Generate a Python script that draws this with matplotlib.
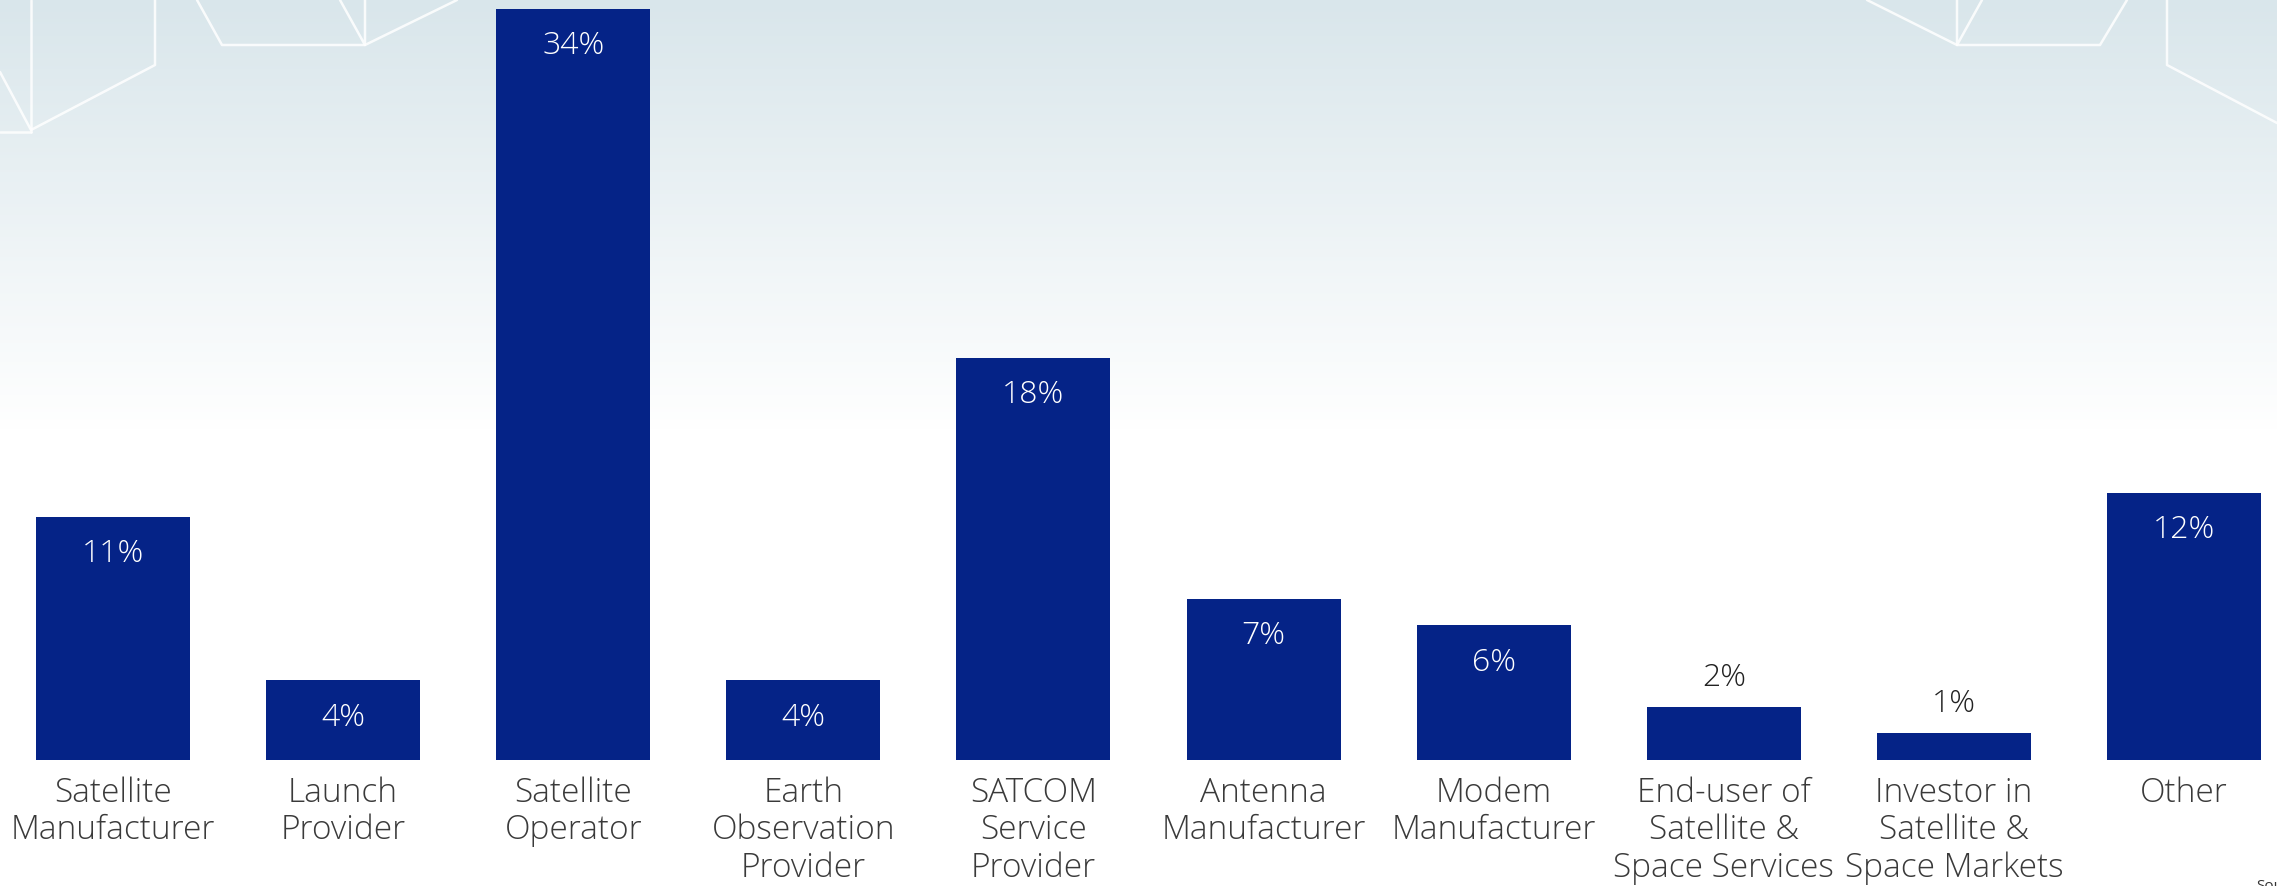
import numpy as np
import matplotlib.pyplot as plt
from matplotlib.colors import LinearSegmentedColormap

categories = ['Satellite\nManufacturer', 'Launch\nProvider', 'Satellite\nOperator',
              'Earth\nObservation\nProvider', 'SATCOM\nService\nProvider',
              'Antenna\nManufacturer', 'Modem\nManufacturer',
              'End-user of\nSatellite &\nSpace Services',
              'Investor in\nSatellite &\nSpace Markets', 'Other']
shares = [11.0, 3.6, 34.0, 3.6, 18.2, 7.3, 6.1, 2.4, 1.2, 12.1]
share_labels = ['11%', '4%', '34%', '4%', '18%', '7%', '6%', '2%', '1%', '12%']

W, H = 2277, 886
bar_color = '#052387'
text_color = '#3a3a3a'
plt.rcParams['font.family'] = ['Open Sans', 'DejaVu Sans']

fig = plt.figure(figsize=(W / 100, H / 100), dpi=100)

# background: light blue-grey fade + white hexagon outlines
bg = fig.add_axes([0, 0, 1, 1])
bg.set_xlim(0, W)
bg.set_ylim(H, 0)
bg.axis('off')
cmap = LinearSegmentedColormap.from_list('fade', ['#d9e6eb', '#ffffff'])
t = np.clip(np.arange(H) / 430.0, 0, 1).reshape(-1, 1)
bg.imshow(t, cmap=cmap, extent=[0, W, H, 0], aspect='auto', vmin=0, vmax=1)
hex_lines = [
    [(31, 0), (31, 132)], [(0, 72), (31, 130), (155, 65), (155, 0)], [(0, 132), (31, 132)],
    [(197, 0), (222, 45), (365, 45), (457, 0)], [(340, 0), (365, 45), (365, 0)],
    [(1867, 0), (1957, 45), (2100, 45), (2127, 0)], [(1957, 0), (1957, 45), (1982, 0)],
    [(2167, 0), (2167, 65), (2277, 123)],
]
for pts in hex_lines:
    xs, ys = zip(*pts)
    bg.plot(xs, ys, color='white', lw=1.8, alpha=0.85, solid_capstyle='round')

ax = fig.add_axes([0, 126 / H, 1, (760 - 8.7) / H])
ax.patch.set_alpha(0)
x = np.arange(len(categories))
ax.bar(x, shares, width=0.669, color=bar_color)
ax.set_xlim(-0.491, 9.404)
ax.set_ylim(0, 34)

for i, (v, lab) in enumerate(zip(shares, share_labels)):
    if v < 3:
        ax.annotate(lab, (i, v), xytext=(0, 21), textcoords='offset points',
                    ha='center', va='center', fontsize=23, fontweight='light', color='#222222')
    else:
        ax.annotate(lab, (i, v), xytext=(0, -27), textcoords='offset points',
                    ha='center', va='center', fontsize=23, fontweight='light', color='white')

ax.set_xticks(x)
ax.set_xticklabels(categories, fontsize=24, fontweight='light', color=text_color,
                   linespacing=1.15, va='top')
ax.tick_params(axis='x', length=0, pad=12)
ax.set_yticks([])
for s in ax.spines.values():
    s.set_visible(False)

fig.text(2256 / W, 1 - 879 / H, 'Source', fontsize=11, color='#333333', va='top', ha='left')

fig.savefig('out.png', dpi=100)
